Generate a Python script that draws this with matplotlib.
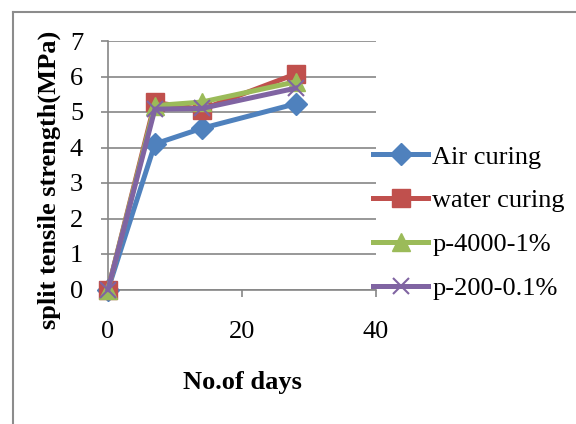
import matplotlib
matplotlib.use("Agg")
import matplotlib.pyplot as plt
from matplotlib.lines import Line2D

days = [0, 7, 14, 28]
air_curing = [0, 4.1, 4.54, 5.23]
water_curing = [0, 5.27, 5.07, 6.07]
p_4000 = [0, 5.18, 5.28, 5.85]
p_200 = [0, 5.08, 5.1, 5.67]

series = [
    ("Air curing", air_curing, "#4F81BD", "D", 11.5),
    ("water curing", water_curing, "#C0504D", "s", 13),
    ("p-4000-1%", p_4000, "#9BBB59", "^", 12.5),
    ("p-200-0.1%", p_200, "#8064A2", "x", 12),
]

plt.rcParams['font.family'] = ['Liberation Serif', 'DejaVu Serif']

fig = plt.figure(figsize=(5.76, 4.24), dpi=100)
ax = fig.add_axes([108/576, 1 - 289.5/424, (376 - 108)/576, (289.5 - 41)/424])

# chart area border (only left and top visible in the crop)
fig.add_artist(Line2D([13/576, 13/576], [0, 1 - 12/424], color="#8c8c8c", lw=1.5,
                      transform=fig.transFigure))
fig.add_artist(Line2D([13/576, 1], [1 - 12/424, 1 - 12/424], color="#8c8c8c", lw=1.5,
                      transform=fig.transFigure))

handles = []
for name, vals, col, mk, ms in series:
    if mk == "x":
        h, = ax.plot(days, vals, color=col, lw=3.6, marker=mk, ms=ms, mew=1.5,
                     clip_on=False, zorder=3, label=name)
    else:
        h, = ax.plot(days, vals, color=col, lw=3.6, marker=mk, ms=ms,
                     markeredgecolor=col, clip_on=False, zorder=3, label=name)
    handles.append(h)

ax.set_xlim(0, 40)
ax.set_ylim(0, 7)
ax.set_xticks([0, 20, 40])
ax.set_yticks(range(0, 8))
ax.yaxis.grid(True, color="#868686", lw=1.2)
ax.set_axisbelow(True)
for s in ["top", "right"]:
    ax.spines[s].set_visible(False)
ax.spines["left"].set_color("#868686")
ax.spines["bottom"].set_color("#868686")
ax.spines["left"].set_linewidth(1.2)
ax.spines["bottom"].set_linewidth(1.2)
ax.tick_params(axis="y", length=5, color="#868686", width=1.2, pad=13, labelsize=19)
ax.tick_params(axis="x", length=5, color="#868686", width=1.2, pad=18, labelsize=19)

fig.text(49/576, 1 - 180/424, "split tensile strength(MPa)", rotation=90,
         ha="center", va="center", fontsize=19, fontweight="bold")
fig.text(242/576, 1 - 383/424, "No.of days", ha="center", va="center",
         fontsize=19, fontweight="bold")

fig.legend(handles=handles, loc="center left", bbox_to_anchor=(373/576, 1 - 222.5/424),
           frameon=False, fontsize=19, numpoints=1, handlelength=2.1,
           handletextpad=0.15, labelspacing=0.77, borderpad=0, borderaxespad=0)

fig.savefig("out.png", dpi=100)
